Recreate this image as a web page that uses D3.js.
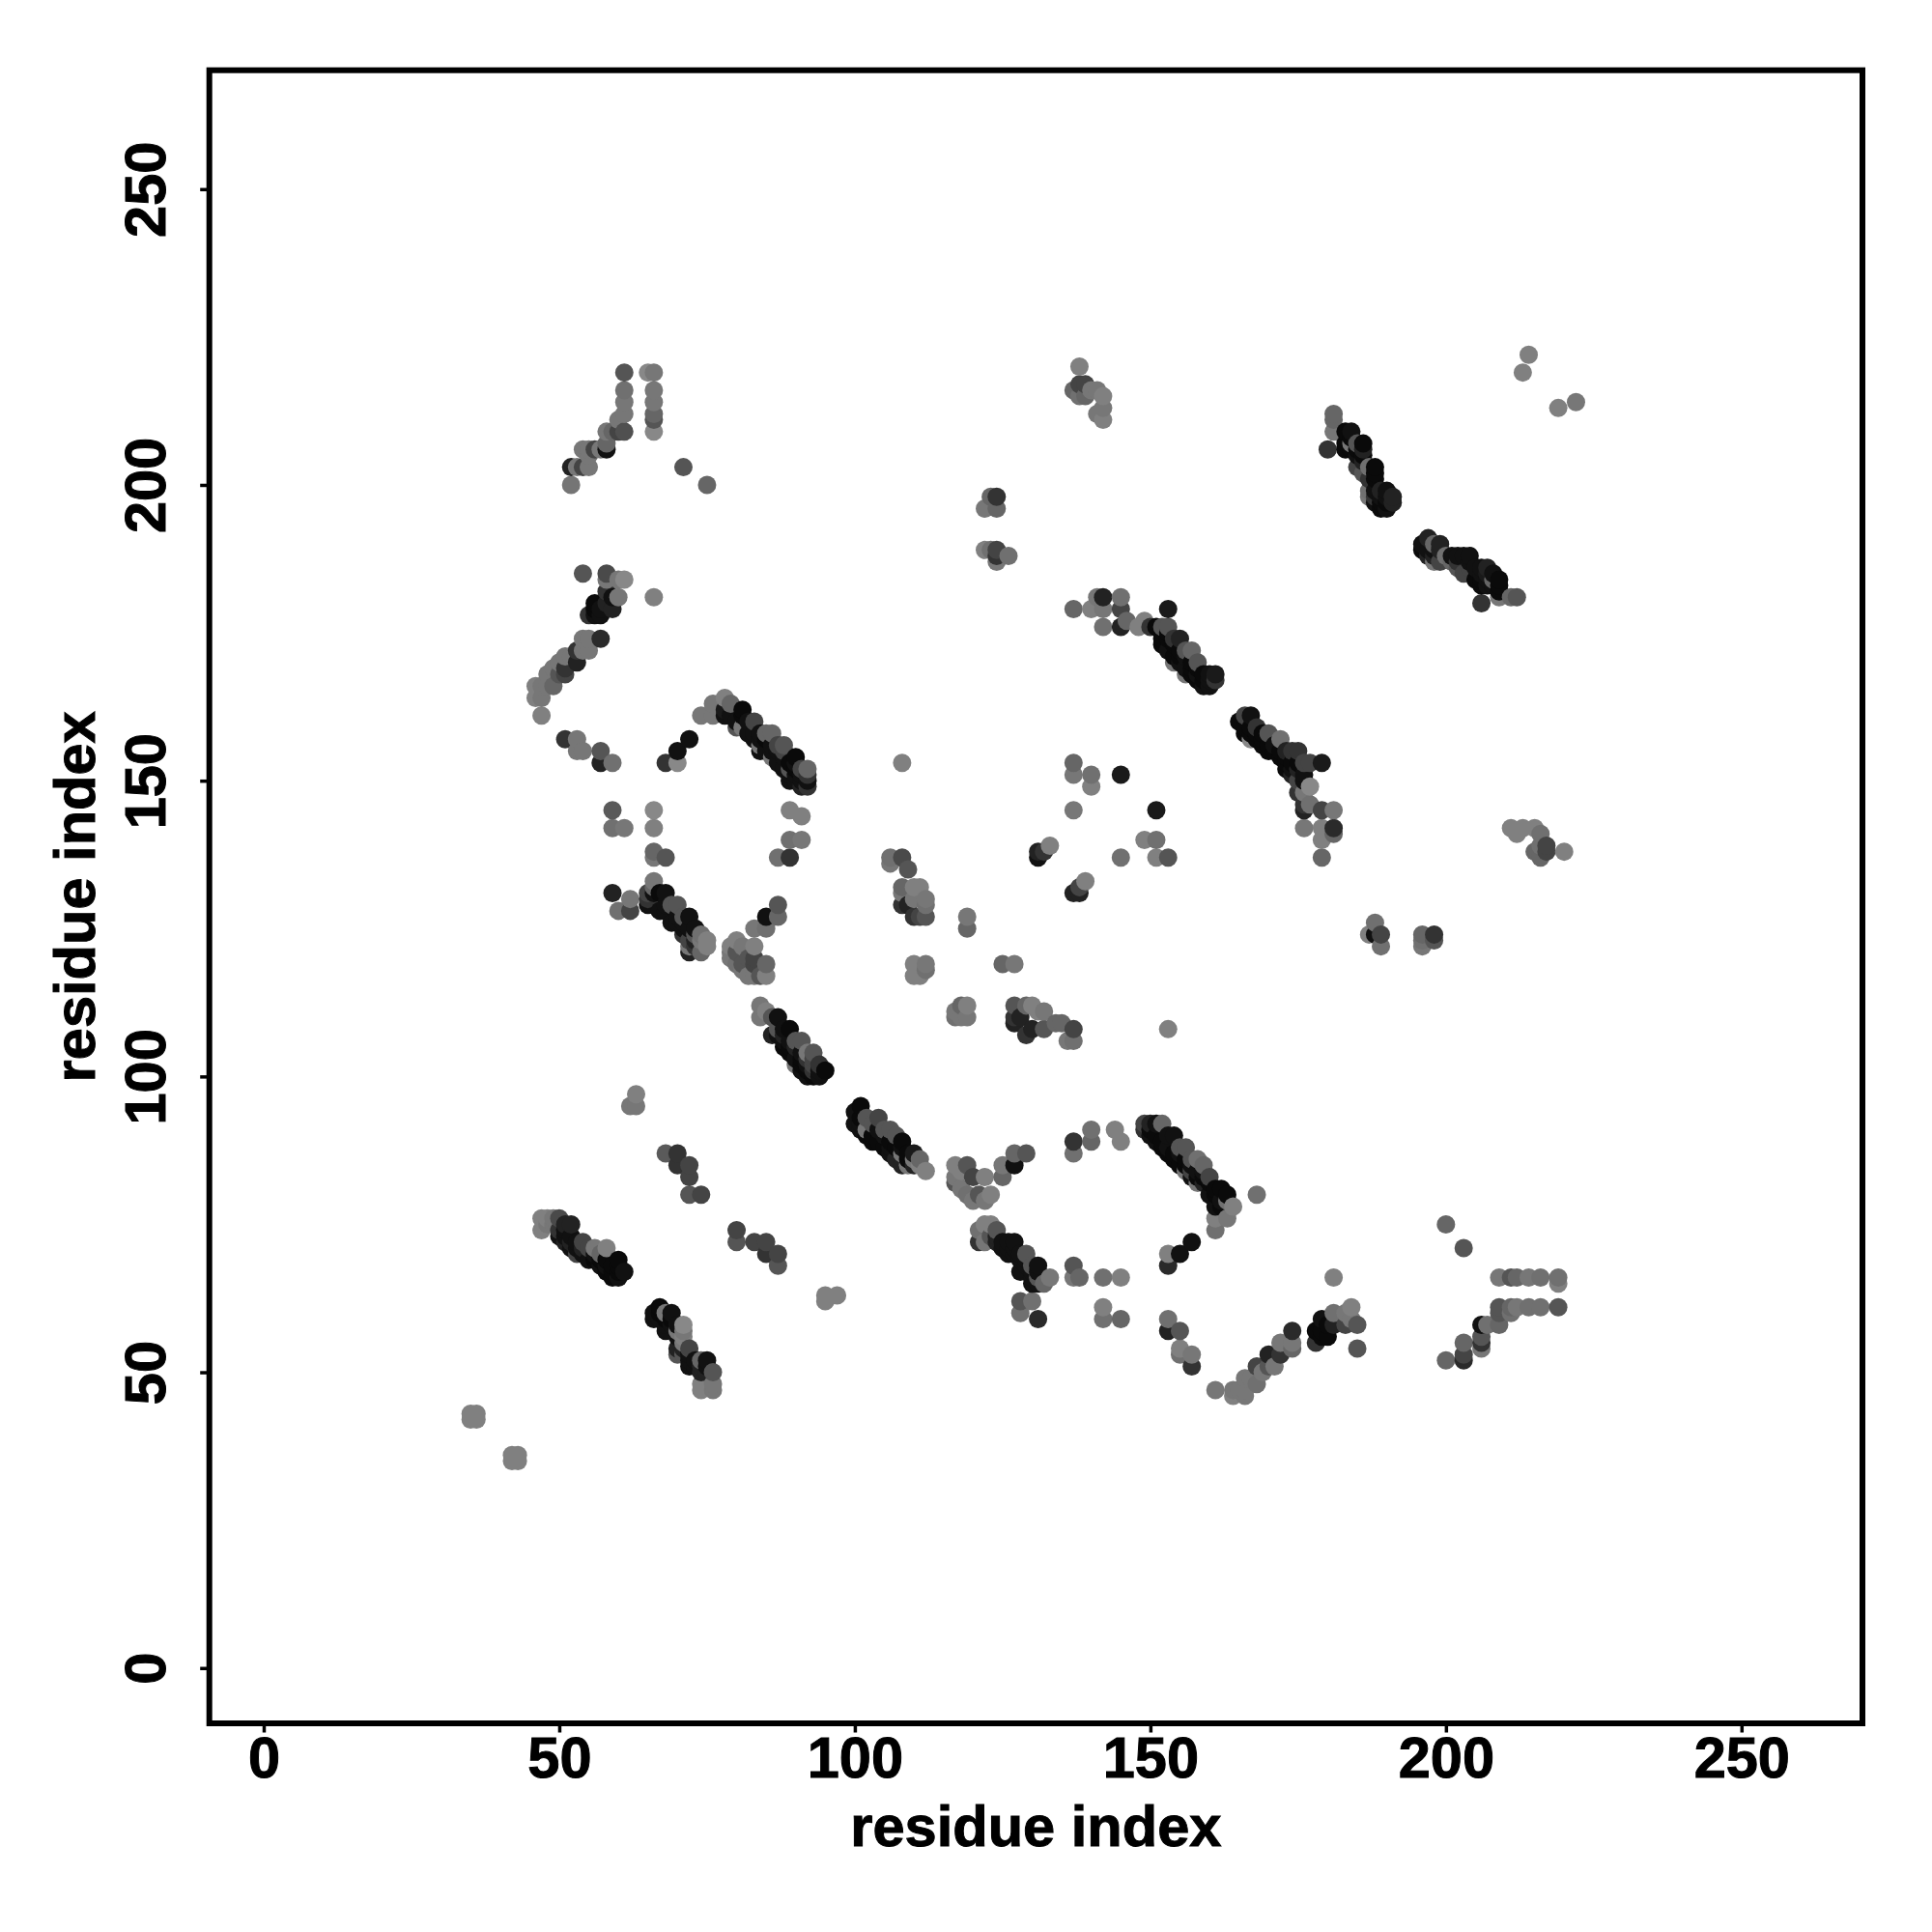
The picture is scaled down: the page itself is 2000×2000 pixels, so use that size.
<!DOCTYPE html>
<html><head><meta charset="utf-8">
<script src="https://cdn.jsdelivr.net/npm/d3@7"></script>
<style>html,body{margin:0;background:#fff}svg{display:block}text{font-family:"Liberation Sans",Arial,sans-serif;font-weight:bold;fill:#000;stroke:#000;stroke-width:1px}</style>
</head><body><svg id="c" width="2000" height="2000"></svg>
<script>
const tickValues = [0,50,100,150,200,250];
const axisTitle = "residue index";
// contacts: [residue i, residue j, grey level]
const contactsTopLeft = [
[61,219,85],[65,219,136],[66,219,119],[61,216,112],[61,214,119],[61,212,119],[61,209,80],[60,211,119],[60,209,68],[59,209,102],[58,209,119],[58,207,102],[58,206,17],[57,206,119],[56,206,68],[55,206,119],[55,205,119],[54,206,119],[55,203,119],[54,203,68],[53,203,119],[52,203,34],[52,200,117],
[66,216,119],[66,214,119],[66,212,102],[66,211,85],[66,209,136],[71,203,85],[75,200,102],
[54,185,85],[58,185,74],[58,184,119],[60,184,119],[61,184,136],[60,181,119],[66,181,128],[58,182,51],[59,181,17],[56,180,10],[58,180,34],[55,178,51],[56,178,17],[57,178,17],[57,179,17],[59,179,34],[56,179,10],
[57,174,42],[54,174,119],[55,174,119],[55,172,119],[54,172,119],[53,172,51],[53,170,34],[52,171,119],[51,171,119],[51,169,51],[51,168,68],[50,170,119],[50,168,85],[49,169,119],[49,166,102],[48,168,119],[47,164,119],[46,166,128],[46,164,128],[47,166,119],[48,166,119],[47,161,128],
[51,157,51],[53,157,119],[53,155,119],[54,155,119],[57,155,85],[57,153,34],[59,153,112],[72,157,17],[70,155,17],[68,153,51],[70,153,136],[108,153,128],
[74,161,119],[76,163,119],[76,161,119],[78,164,128],[79,163,102],[78,162,26],[78,161,17],[79,161,17],[80,160,17],[81,162,10],[81,161,10],[81,159,119],[83,160,68],[83,158,17],[84,157,17],[85,158,102],[86,158,102],[85,155,17],[85,156,17],[84,156,119],[86,156,17],[86,154,119],[87,153,17],[87,155,17],[88,156,85],[88,154,17],[88,152,17],[89,152,85],[89,151,17],[90,154,10],[90,152,10],[90,151,17],[91,149,34],[91,151,17],[92,149,51],[92,150,17],[92,151,51],[92,152,102]
];
const contactsMiddleLeft = [
[59,145,90],[59,142,112],[61,142,119],[66,145,136],[66,142,128],[89,145,128],[91,144,128],[89,140,112],[91,140,119],[87,137,112],[89,137,51],[66,138,102],[66,137,119],[68,137,85],
[59,131,34],[62,130,119],[62,128,68],[60,128,112],[65,131,68],[65,130,51],[65,129,17],[66,133,119],[66,132,102],[67,131,10],[68,131,17],[67,128,17],[69,129,85],[70,129,85],[69,126,17],[70,127,17],[71,126,17],[72,127,17],[71,124,51],[72,125,17],[72,123,68],[72,121,34],[72,122,119],[74,124,112],[75,123,128],[74,121,102],[75,122,128],
[87,129,85],[87,127,102],[85,127,17],[85,125,112],[83,125,119],
[79,122,128],[79,121,119],[79,120,119],[80,123,128],[80,121,85],[80,119,112],[81,122,119],[81,119,85],[81,118,119],[82,120,85],[82,117,119],[83,122,128],[83,120,68],[83,119,68],[83,117,119],[84,117,85],[85,119,102],[85,117,128],
[84,112,119],[84,110,119],[85,111,128],[86,110,85],[86,107,34],[87,110,17],[87,108,85],[88,108,17],[88,105,10],[89,108,10],[89,106,17],[90,106,85],[90,103,17],[90,102,119],[91,106,85],[91,104,17],[92,104,119],[92,102,17],[92,100,17],[93,104,85],[93,103,68],[93,101,51],[93,100,10],[94,100,17],[95,101,10],
[63,97,128],[62,95,119],[63,95,119],
[106,137,112],[106,136,119],[108,137,74],[109,135,85],[108,132,102],[110,132,128],[108,129,51],[108,131,119],[109,129,34],[110,127,51],[110,130,119],[111,127,68],[111,132,128],[112,130,119],[112,129,112],[112,127,85],[110,119,128],[110,117,128],[112,119,119],[111,117,128],[112,118,112],[119,127,119],[119,125,102],
[117,111,119],[117,110,112],[119,112,128],[119,110,119],[118,112,102],[118,110,119],[125,119,102],[127,119,119]
];
const contactsTopRight = [
[138,220,128],[137,216,102],[138,217,68],[138,215,112],[139,217,68],[139,215,102],[140,216,119],[141,216,119],[141,212,119],[142,215,128],[142,213,119],[142,211,128],
[214,222,128],[213,219,128],[219,213,128],[222,214,119],
[181,212,102],[181,211,102],[181,209,119],[180,206,51],[183,209,10],[184,209,17],[183,207,10],[183,206,10],[184,207,119],[185,207,85],[186,207,10],[186,206,34],[185,205,17],[185,203,68],[186,202,85],[187,203,112],[188,203,10],[188,202,10],[187,199,112],[187,198,119],[188,198,51],[189,199,34],[190,199,17],[191,197,34],[189,196,10],[190,196,17],
[197,191,34],[196,190,17],[196,189,10],[199,190,34],[198,190,102],[198,187,119],[199,187,68],[200,188,112],[202,188,17],[203,188,17],[203,185,68],[202,186,85],[206,186,17],[207,186,34],[206,183,10],[209,184,10],[209,183,10],[208,184,102],[206,180,51],[209,181,119],[211,181,102],[212,181,85],[207,183,17],
[124,198,51],[123,198,102],[122,196,119],[124,196,102],[122,189,128],[124,189,68],[124,188,51],[124,187,119],[126,188,112],[123,189,112],
[137,179,102],[140,179,128],[141,181,119],[142,181,34],[142,179,119],[142,176,112],[145,181,112],[145,179,68],[145,176,34],[146,177,102],[148,176,128],[149,177,128],[150,176,51],[153,179,26],[151,176,10],[152,176,85],[153,176,85],[152,174,10],[152,173,10],[153,172,17],[155,174,34],[154,171,10],[154,170,119],[155,170,17],[156,172,85],[157,172,102],[156,169,17],[156,168,119],[157,168,10],[158,170,85],[158,167,10],[159,166,17],[160,168,17],[160,166,17],[161,168,26],[161,167,51],
[167,161,17],[166,161,68],[165,160,10],[166,159,10],[166,158,10],[167,157,136],[168,158,10],[169,156,10],[170,158,85],[172,157,112],[171,155,10],[172,154,10],[173,152,10],[174,155,51],[175,155,51],[174,152,17],[175,150,68],[176,153,68],[177,153,68],[179,153,26],[177,149,136],[176,148,119]
];
const contactsMiddleRight = [
[137,153,102],[137,151,119],[140,151,112],[140,149,128],[145,151,26],[137,145,119],[151,145,26],[149,140,128],[151,140,112],[145,137,112],[151,137,128],[153,137,85],[133,139,128],[131,138,34],[131,137,17],[132,138,51],[139,133,128],[138,132,68],[137,131,34],[138,131,34],
[176,145,34],[176,146,51],[177,146,112],[179,145,68],[181,145,119],[176,142,119],[179,142,128],[181,142,42],[179,140,128],[181,141,102],[179,137,102],
[211,142,128],[213,142,128],[215,142,128],[212,141,128],[216,141,112],[215,138,102],[216,137,102],[216,139,112],[217,139,68],[217,138,68],[220,138,128],
[188,126,112],[187,124,128],[188,124,17],[189,124,68],[189,122,112],[196,124,102],[196,122,119],[196,123,112],[198,124,51],[198,123,85],
[127,112,85],[127,110,51],[127,109,34],[128,110,34],[129,112,102],[129,107,51],[130,112,128],[130,108,34],[131,111,128],[132,111,119],[132,108,85],[134,109,102],[135,109,102],[137,108,68],[136,106,119],[137,106,112],[153,108,128]
];
const contactsLowerLeft = [
[47,76,128],[47,74,128],[48,76,128],[49,76,119],[50,76,74],[50,74,51],[51,74,17],[51,72,34],[52,75,34],[52,72,34],[53,70,68],[54,72,68],[54,70,17],[56,71,119],[57,70,102],[57,68,17],[58,71,128],[58,68,17],[59,66,10],[60,69,10],[60,66,17],[61,67,17],
[68,87,90],[70,87,51],[70,85,51],[72,85,68],[72,83,68],[72,80,85],[74,80,68],
[80,74,68],[80,72,85],[83,72,68],[85,72,68],[85,70,51],[87,70,68],[87,68,85],[95,63,128],[95,62,128],[97,63,128],
[67,61,10],[66,60,17],[66,59,17],[67,59,17],[68,60,119],[69,60,17],[68,57,17],[69,58,17],[71,58,136],[71,56,128],[70,54,34],[70,53,85],[72,54,68],[72,51,17],[74,52,102],[74,50,34],[75,52,17],[76,50,85],[74,48,128],[74,47,128],[76,48,119],[76,47,119],
[35,43,128],[36,43,128],[35,42,128],[36,42,128],[42,36,128],[43,36,128],[42,35,128],[43,35,128],
[101,95,10],[100,94,17],[100,92,17],[101,92,17],[102,93,85],[102,91,119],[103,90,10],[104,93,68],[104,91,17],[105,88,10],[106,91,85],[107,86,34],[106,88,17],[108,89,10],[108,87,119],[109,85,119],[110,87,26],[111,85,128],[112,84,128]
];
const contactsLowerRight = [
[117,85,128],[117,83,119],[117,82,85],[118,84,128],[118,81,119],[119,85,85],[119,80,112],[120,83,68],[120,79,119],[121,80,85],[122,83,128],[122,79,119],[123,80,128],[125,85,119],[125,83,102],[127,85,17],[127,87,102],[129,87,85],
[121,74,112],[122,75,128],[123,75,128],[124,74,85],[121,72,51],[122,72,119],[124,72,34],[125,72,17],[126,70,17],[127,72,17],[127,70,17],[128,67,17],[129,70,85],[130,68,85],[131,68,17],[130,65,17],[131,66,85],[132,65,102],[133,66,119],
[137,89,51],[137,87,112],[140,91,112],[140,89,102],[144,91,128],[145,89,128],
[149,92,68],[149,91,51],[150,92,34],[151,92,17],[151,89,17],[152,92,102],[153,87,10],[153,90,17],[154,90,17],[155,88,85],[155,85,10],[156,88,85],[157,83,17],[156,86,10],[158,86,112],[158,82,119],[159,84,17],[160,83,68],[160,80,17],[161,81,10],[162,81,10],[161,78,17],[163,79,112],[164,78,128],[161,76,128],[163,76,119],[161,74,112],[168,80,112],
[157,72,17],[155,70,17],[153,70,128],[153,68,42],
[137,68,85],[137,66,119],[138,66,102],[142,66,112],[145,66,128],[128,62,85],[130,62,112],[128,60,112],[131,59,42],[142,61,128],[142,59,112],[145,59,102],
[153,59,112],[153,57,34],[155,57,85],[155,54,128],[155,53,112],[157,53,119],[157,51,51],
[161,47,119],[164,47,119],[164,46,128],[165,47,119],[166,46,119],[166,49,119],[166,47,119],[167,49,119],[168,51,68],[168,48,112],[169,50,119],[170,53,34],[170,51,85],[171,51,119],[172,53,51],[172,55,119],[174,54,102],[174,55,119],[174,57,42],
[178,55,51],[178,57,10],[179,59,17],[179,57,10],[179,56,10],[180,58,10],[180,56,10],[181,58,34],[181,60,112],[181,66,128],[183,58,68],[183,60,119],[184,61,128],[184,59,119],[185,58,85],[185,54,85],
[200,75,102],[203,71,85],
[209,66,119],[211,66,85],[212,66,102],[214,66,119],[216,66,112],[219,65,128],[219,66,112],[209,61,85],[209,60,85],[211,61,102],[211,60,112],[212,61,119],[214,61,112],[216,61,112],[219,61,85],[209,58,102],[207,58,112],[206,58,17],[206,56,85],[206,55,51],[206,54,119],[203,55,102],[203,53,68],[203,52,42],[200,52,102]
];
// contacts packed under the others along the dense anti-diagonal bands
const contactsBands = [
[80,159,85],[82,158,17],[83,157,17],[84,155,17],[82,160,17],[84,158,17],[85,157,10],[86,155,17],[87,156,68],[88,155,68],[89,153,10],[89,150,17],[90,153,17],[90,150,17],[91,152,68],[91,150,17],
[66,131,17],[68,129,17],[68,128,17],[70,126,17],[71,127,85],[71,125,17],[73,125,17],[73,123,34],[73,122,51],[73,124,85],[74,123,119],
[87,107,17],[88,106,17],[88,107,34],[89,104,10],[89,105,10],[90,105,34],[91,103,10],[91,102,10],[91,101,17],[92,103,51],[92,101,10],[94,101,17],[94,102,51],[93,102,68],
[101,93,10],[101,91,17],[102,90,10],[103,92,85],[103,89,10],[104,89,10],[105,91,85],[105,90,17],[106,89,10],[106,87,17],[107,88,10],[107,90,85],[108,88,17],[109,87,10],[109,86,10],[110,85,34],[110,86,119],[111,86,102],[108,85,34],
[150,90,17],[150,91,10],[151,90,10],[152,89,10],[152,88,10],[153,88,17],[154,86,10],[154,87,10],[155,87,17],[156,85,10],[157,86,85],[157,85,17],[158,84,17],[158,83,10],[159,83,10],[159,82,34],[160,82,10],[161,80,10],[162,79,17],[162,78,10],[163,80,10],[159,85,102],[156,84,119],[157,84,68],
[153,175,10],[153,174,10],[154,174,51],[154,173,10],[155,172,10],[155,171,10],[156,171,17],[157,170,10],[157,169,10],[158,169,10],[158,168,17],[159,168,10],[159,167,10],[160,167,17],
[167,159,10],[167,158,10],[168,157,10],[168,159,51],[169,158,10],[169,157,10],[170,156,10],[170,155,10],[171,156,17],[172,155,10],[173,154,10],[173,153,10],[174,153,10],[174,151,34],[175,153,10],[175,152,34],[176,151,17],[176,150,17],[173,155,34],[175,148,51],
[48,75,119],[49,75,119],[51,75,34],[50,73,17],[51,73,17],[52,73,17],[52,71,17],[53,72,17],[53,71,17],[54,71,34],[55,71,68],[55,69,17],[56,70,17],[56,69,10],[57,69,10],[58,67,10],[58,69,10],[59,68,10],[59,67,10],[60,67,10],[60,68,10],
[67,60,10],[68,59,10],[68,58,17],[69,59,10],[70,57,119],[70,58,17],[70,56,17],[71,55,119],[71,57,119],[71,54,34],[71,53,85],[72,53,17],[72,52,17],[73,52,17],[73,51,17],[74,51,34],[75,51,17],[75,50,34],
[123,73,85],[124,73,34],[125,71,17],[126,71,17],[126,72,17],[127,71,17],[128,69,17],[128,70,17],[129,68,17],[129,69,17],[130,67,17],[130,66,17],[131,65,17],[131,67,17],
[184,208,10],[184,206,10],[185,206,10],[186,205,10],[186,204,34],[187,201,51],[188,201,10],[188,199,17],[188,197,17],[189,198,17],[189,197,10],[190,198,17],[190,197,10],[191,198,34],
[197,189,17],[197,188,34],[198,189,17],[198,188,34],[199,189,34],[201,187,102],[201,188,17],[202,187,51],[204,186,68],[204,187,17],[204,188,17],[205,186,17],[205,184,10],[206,185,17],[206,184,10],[207,184,17],[207,185,26],[208,183,17],[208,185,17],[209,182,10]
];

const contacts = [].concat(contactsTopLeft, contactsMiddleLeft, contactsTopRight, contactsMiddleRight, contactsLowerLeft, contactsLowerRight, contactsBands)
  .sort((a,b)=>d3.ascending(a[0],b[0])||d3.ascending(a[1],b[1]));

const svg = d3.select("#c");
const L=216.7,R=1928,T=72.7,B=1784;
const x = d3.scaleLinear().domain([-9.2,270.46]).range([L,R]);
const y = d3.scaleLinear().domain([-9.35,270.1]).range([B,T]);

svg.append("g").selectAll("circle").data(contacts).join("circle")
  .attr("cx",d=>x(d[0])).attr("cy",d=>y(d[1])).attr("r",9.5)
  .attr("fill",d=>d3.rgb(d[2],d[2],d[2]).formatHex());

svg.append("rect").attr("x",L).attr("y",T).attr("width",R-L).attr("height",B-T)
  .attr("fill","none").attr("stroke","#000").attr("stroke-width",6);

const ax = svg.append("g").attr("transform",`translate(0,${B})`)
  .call(d3.axisBottom(x).tickValues(tickValues).tickSize(9.5).tickPadding(0).tickFormat(d3.format("d")));
ax.select(".domain").remove();
ax.selectAll("line").attr("stroke","#000").attr("stroke-width",3.5);
ax.selectAll("text").attr("y",56).attr("dy",0).style("font-size","59.5px").attr("text-anchor","middle");

const ay = svg.append("g").attr("transform",`translate(${L},0)`)
  .call(d3.axisLeft(y).tickValues(tickValues).tickSize(9.5).tickPadding(0).tickFormat(d3.format("d")));
ay.select(".domain").remove();
ay.selectAll("line").attr("stroke","#000").attr("stroke-width",3.5);
ay.selectAll("text").attr("x",null).attr("y",null).attr("dy",0)
  .attr("transform","translate(-46,0) rotate(-90)").style("font-size","59.5px").attr("text-anchor","middle");

svg.append("text").attr("x",(L+R)/2).attr("y",1911).attr("text-anchor","middle").style("font-size","59.6px").text(axisTitle);
svg.append("text").attr("transform",`translate(98,${(T+B)/2}) rotate(-90)`).attr("text-anchor","middle").style("font-size","59.6px").text(axisTitle);
</script></body></html>
